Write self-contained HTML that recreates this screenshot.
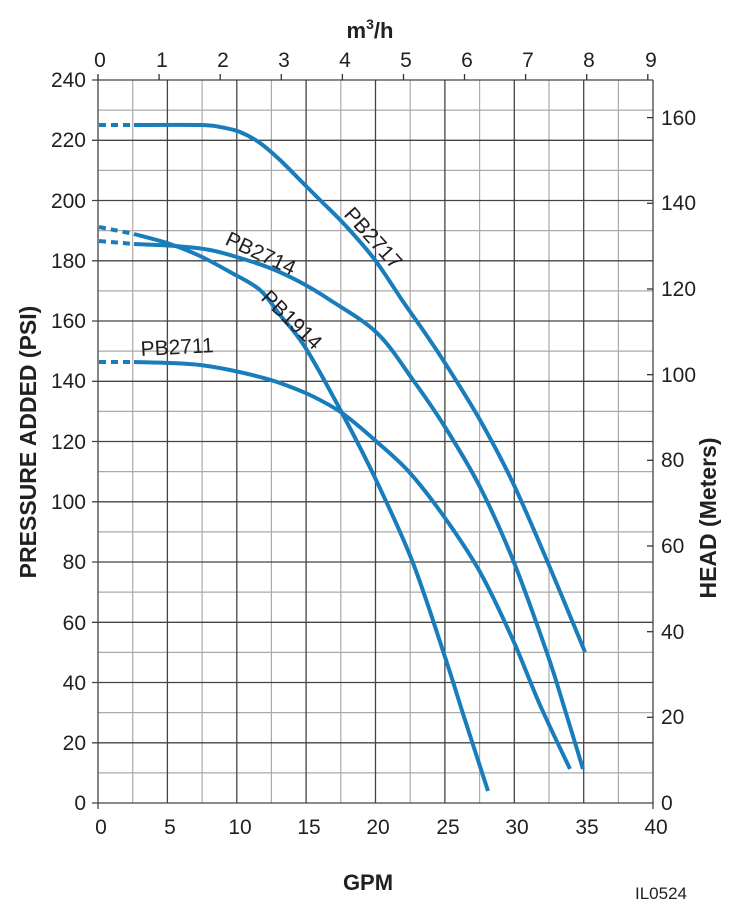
<!DOCTYPE html>
<html><head><style>
html,body{margin:0;padding:0;background:#fff;}
svg{display:block;font-family:"Liberation Sans",Arial,sans-serif;}
</style></head><body>
<svg width="735" height="909" viewBox="0 0 735 909">
<g stroke="#aaa" stroke-width="1.2">
<line x1="132.7" y1="80" x2="132.7" y2="803"/><line x1="202.1" y1="80" x2="202.1" y2="803"/>
<line x1="271.4" y1="80" x2="271.4" y2="803"/><line x1="340.8" y1="80" x2="340.8" y2="803"/>
<line x1="410.2" y1="80" x2="410.2" y2="803"/><line x1="479.6" y1="80" x2="479.6" y2="803"/>
<line x1="549" y1="80" x2="549" y2="803"/><line x1="618.4" y1="80" x2="618.4" y2="803"/>
<line x1="98" y1="772.9" x2="653" y2="772.9"/><line x1="98" y1="712.6" x2="653" y2="712.6"/>
<line x1="98" y1="652.4" x2="653" y2="652.4"/><line x1="98" y1="592.1" x2="653" y2="592.1"/>
<line x1="98" y1="531.9" x2="653" y2="531.9"/><line x1="98" y1="471.6" x2="653" y2="471.6"/>
<line x1="98" y1="411.4" x2="653" y2="411.4"/><line x1="98" y1="351.1" x2="653" y2="351.1"/>
<line x1="98" y1="290.9" x2="653" y2="290.9"/><line x1="98" y1="230.6" x2="653" y2="230.6"/>
<line x1="98" y1="170.4" x2="653" y2="170.4"/><line x1="98" y1="110.1" x2="653" y2="110.1"/>
</g>
<g stroke="#444" stroke-width="1.3">
<line x1="167.4" y1="80" x2="167.4" y2="803"/><line x1="236.8" y1="80" x2="236.8" y2="803"/>
<line x1="306.1" y1="80" x2="306.1" y2="803"/><line x1="375.5" y1="80" x2="375.5" y2="803"/>
<line x1="444.9" y1="80" x2="444.9" y2="803"/><line x1="514.3" y1="80" x2="514.3" y2="803"/>
<line x1="583.7" y1="80" x2="583.7" y2="803"/>
<line x1="92" y1="742.8" x2="653" y2="742.8"/><line x1="92" y1="682.5" x2="653" y2="682.5"/>
<line x1="92" y1="622.3" x2="653" y2="622.3"/><line x1="92" y1="562" x2="653" y2="562"/>
<line x1="92" y1="501.8" x2="653" y2="501.8"/><line x1="92" y1="441.5" x2="653" y2="441.5"/>
<line x1="92" y1="381.3" x2="653" y2="381.3"/><line x1="92" y1="321" x2="653" y2="321"/>
<line x1="92" y1="260.8" x2="653" y2="260.8"/><line x1="92" y1="200.5" x2="653" y2="200.5"/>
<line x1="92" y1="140.3" x2="653" y2="140.3"/><line x1="92" y1="80" x2="653" y2="80"/>
<line x1="92" y1="803" x2="653" y2="803"/>
<line x1="98" y1="80" x2="98" y2="809"/><line x1="653" y1="80" x2="653" y2="809"/>
</g>
<g stroke="#333" stroke-width="1.3">
<line x1="159.1" y1="80" x2="159.1" y2="74"/><line x1="220.2" y1="80" x2="220.2" y2="74"/>
<line x1="281.3" y1="80" x2="281.3" y2="74"/><line x1="342.4" y1="80" x2="342.4" y2="74"/>
<line x1="403.5" y1="80" x2="403.5" y2="74"/><line x1="464.5" y1="80" x2="464.5" y2="74"/>
<line x1="525.6" y1="80" x2="525.6" y2="74"/><line x1="586.7" y1="80" x2="586.7" y2="74"/>
<line x1="647.8" y1="80" x2="647.8" y2="74"/><line x1="98" y1="80" x2="98" y2="74"/>
<line x1="647" y1="717.3" x2="653" y2="717.3"/><line x1="647" y1="631.7" x2="653" y2="631.7"/>
<line x1="647" y1="546" x2="653" y2="546"/><line x1="647" y1="460.3" x2="653" y2="460.3"/>
<line x1="647" y1="374.7" x2="653" y2="374.7"/><line x1="647" y1="289" x2="653" y2="289"/>
<line x1="647" y1="203.3" x2="653" y2="203.3"/><line x1="647" y1="117.6" x2="653" y2="117.6"/>
</g>
<g fill="#231f20" font-size="21" text-anchor="end">
<text x="86" y="87">240</text><text x="86" y="147">220</text><text x="86" y="208">200</text>
<text x="86" y="268">180</text><text x="86" y="328">160</text><text x="86" y="388">140</text>
<text x="86" y="449">120</text><text x="86" y="509">100</text><text x="86" y="569">80</text>
<text x="86" y="630">60</text><text x="86" y="690">40</text><text x="86" y="750">20</text>
<text x="86" y="810">0</text>
</g>
<g fill="#231f20" font-size="21" text-anchor="start">
<text x="661" y="810">0</text><text x="661" y="724">20</text><text x="661" y="639">40</text>
<text x="661" y="553">60</text><text x="661" y="467">80</text><text x="661" y="382">100</text>
<text x="661" y="296">120</text><text x="661" y="210">140</text><text x="661" y="125">160</text>
</g>
<g fill="#231f20" font-size="21" text-anchor="middle">
<text x="101" y="834">0</text><text x="170" y="834">5</text><text x="240" y="834">10</text>
<text x="309" y="834">15</text><text x="378" y="834">20</text><text x="448" y="834">25</text>
<text x="517" y="834">30</text><text x="587" y="834">35</text><text x="656" y="834">40</text>
<text x="100" y="67">0</text><text x="162" y="67">1</text><text x="223" y="67">2</text>
<text x="284" y="67">3</text><text x="345" y="67">4</text><text x="406" y="67">5</text>
<text x="467" y="67">6</text><text x="528" y="67">7</text><text x="589" y="67">8</text>
<text x="651" y="67">9</text>
</g>
<text x="370" y="38" font-size="22" font-weight="bold" text-anchor="middle" fill="#231f20">m<tspan font-size="14" dy="-9">3</tspan><tspan dy="9">/h</tspan></text>
<text x="368" y="890" font-size="22" font-weight="bold" text-anchor="middle" fill="#231f20">GPM</text>
<text x="661" y="899" font-size="17" text-anchor="middle" fill="#231f20">IL0524</text>
<text transform="translate(36,442) rotate(-90)" font-size="23" font-weight="bold" text-anchor="middle" fill="#231f20">PRESSURE ADDED (PSI)</text>
<text transform="translate(716,518) rotate(-90)" font-size="23" font-weight="bold" text-anchor="middle" fill="#231f20">HEAD (Meters)</text>
<g fill="none" stroke="#1a7dbb" stroke-width="4" stroke-linejoin="round">
<g stroke-dasharray="7,5">
<path d="M99 125 L134 125"/><path d="M99 227 L134 234"/><path d="M99 241 L134 244"/><path d="M99 362 L134 362"/>
</g>
<polyline class="c" points="134,125 200,125 220,127 240,132 260,143 280,160 300,180 320,200 345,225 375,260 402,300 425,333 445,363 480,420 513,483 548,563 585,652"/>
<polyline class="c" points="134,244 175,246 210,250 240,258 270,268 300,282 330,300 377,333 413,380 445,427 480,487 513,560 547,653 565,710 583,769"/>
<polyline class="c" points="134,234 170,244 200,256 230,272 260,290 280,315 305,347 342,413 377,482 413,563 445,657 465,720 488,791"/>
<polyline class="c" points="134,362 170,363 200,365 230,370 260,377 280,383 310,395 342,413 377,442 410,473 445,518 480,572 513,640 540,705 570,769"/>
</g>
<g fill="#231f20" font-size="21">
<text transform="translate(343,215) rotate(48)">PB2717</text>
<text transform="translate(224,244) rotate(25)">PB2714</text>
<text transform="translate(260,299) rotate(44)">PB1914</text>
<text transform="translate(141,356) rotate(-3)">PB2711</text>
</g>
</svg>
<script>
document.querySelectorAll('polyline.c').forEach(function(pl){
  var p=pl.getAttribute('points').trim().split(/\s+/).map(function(s){return s.split(',').map(Number);});
  var d='M'+p[0][0]+' '+p[0][1];
  for(var i=0;i<p.length-1;i++){
    var p0=p[i-1]||p[i],p1=p[i],p2=p[i+1],p3=p[i+2]||p2;
    var c1x=p1[0]+(p2[0]-p0[0])/6,c1y=p1[1]+(p2[1]-p0[1])/6;
    var c2x=p2[0]-(p3[0]-p1[0])/6,c2y=p2[1]-(p3[1]-p1[1])/6;
    d+=' C'+c1x.toFixed(1)+' '+c1y.toFixed(1)+' '+c2x.toFixed(1)+' '+c2y.toFixed(1)+' '+p2[0]+' '+p2[1];
  }
  var path=document.createElementNS('http://www.w3.org/2000/svg','path');
  path.setAttribute('d',d);
  pl.parentNode.replaceChild(path,pl);
});
</script>
</body></html>
